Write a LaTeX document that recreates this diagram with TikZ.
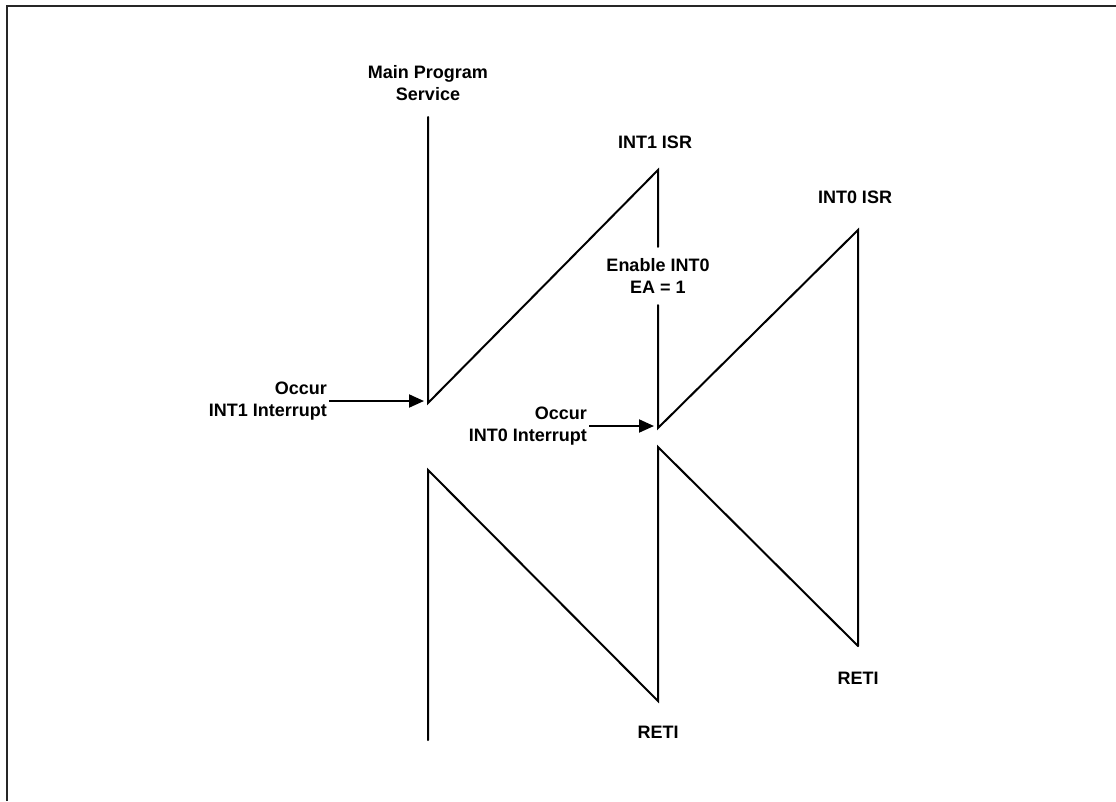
\documentclass[tikz,border=0pt]{standalone}
\usepackage{fontspec}
\setmainfont{Liberation Sans}
\usetikzlibrary{arrows.meta}
\tikzset{
	lbl/.style={font=\bfseries\fontsize{18}{22}\selectfont, align=center, inner sep=2pt},
	trace/.style={line width=2pt, line cap=round},
	arr/.style={line width=2pt, -{Triangle[length=15pt,width=13pt]}, shorten >=4pt}
}

\begin{document}
\begin{tikzpicture}[x=1pt, y=-1pt]
		%%%%% START %%%%%
		\useasboundingbox (0, 0) rectangle (1116, 801);
		
		\draw[line width=2pt, color=black!85] (7, 801) -- (7, 6) -- (1116, 6);
		
		% corners of the saw teeth
		\coordinate (mainTop) at (428, 117);
		\coordinate (int1In) at (428, 403);
		\coordinate (int1Top) at (658, 170);
		\coordinate (int0In) at (658, 428);
		\coordinate (int0Top) at (858, 230);
		\coordinate (int0End) at (858, 646);
		\coordinate (int1Back) at (658, 447);
		\coordinate (int1End) at (658, 701);
		\coordinate (mainBack) at (428, 470);
		\coordinate (mainEnd) at (428, 740);
		
		\node[lbl] (mainLbl) at (428, 83) {Main Program\\Service};
		\node[lbl] (int1Lbl) at (655, 142) {INT1 ISR};
		\node[lbl] (int0Lbl) at (855, 197) {INT0 ISR};
		\node[lbl, minimum height=58pt, inner sep=0pt] (enable) at (658, 276) {Enable INT0\\EA = 1};
		\node[lbl, anchor=east, align=right] (occ1) at (329, 401) {Occur\\INT1 Interrupt};
		\node[lbl, anchor=east, align=right] (occ0) at (589, 426) {Occur\\INT0 Interrupt};
		\node[lbl] (reti1) at (658, 732) {RETI};
		\node[lbl] (reti0) at (858, 678) {RETI};
		
		\draw[trace] (mainTop) -- (int1In) -- (int1Top) -- (enable.north);
		\draw[trace] (enable.south) -- (int0In) -- (int0Top) -- (int0End);
		\draw[trace] (int0End) -- (int1Back) -- (int1End) -- (mainBack) -- (mainEnd);
		
		\draw[arr] (occ1.east) -- (occ1.east -| int1In);
		\draw[arr] (occ0.east) -- (occ0.east -| int0In);
		%%%%% END %%%%%
\end{tikzpicture}
\end{document}
